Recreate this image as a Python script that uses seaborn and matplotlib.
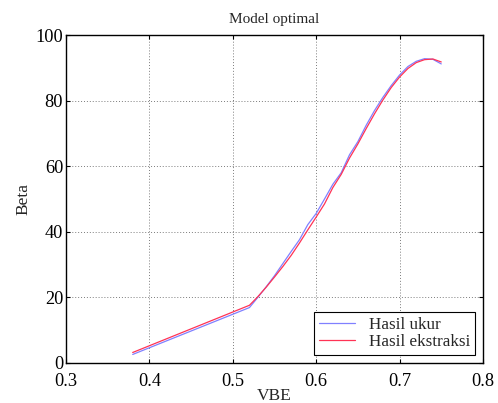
import numpy as np
import pandas as pd
import matplotlib
matplotlib.use("Agg")
import matplotlib.pyplot as plt
import seaborn as sns

vbe = [0.38, 0.52, 0.53, 0.54, 0.55, 0.56, 0.57, 0.58, 0.59, 0.60, 0.61, 0.62, 0.63,
       0.64, 0.65, 0.66, 0.67, 0.68, 0.69, 0.70, 0.71, 0.72, 0.73, 0.74, 0.75]
beta_ukur = [2.6, 16.9, 20.0, 23.2, 26.6, 30.3, 34.0, 37.6, 42.2, 45.6, 50.0, 54.5, 58.0,
             63.5, 67.5, 72.5, 77.0, 81.0, 84.6, 87.8, 90.4, 92.0, 92.8, 92.6, 91.2]
beta_ekstraksi = [3.2, 17.6, 20.2, 23.1, 26.2, 29.4, 32.8, 36.6, 40.6, 44.5, 48.5, 53.5, 57.5,
                  62.5, 66.8, 71.5, 76.0, 80.2, 84.0, 87.2, 89.8, 91.6, 92.5, 92.7, 91.8]
series = ["Hasil ukur", "Hasil ekstraksi"]
xticks = [0.3, 0.4, 0.5, 0.6, 0.7, 0.8]
yticks = [0, 20, 40, 60, 80, 100]

df = pd.DataFrame({
    "VBE": vbe + vbe,
    "Beta": beta_ukur + beta_ekstraksi,
    "series": [series[0]] * len(vbe) + [series[1]] * len(vbe),
})

sns.set_style("white")
plt.rcParams["font.family"] = ["Liberation Serif", "DejaVu Serif"]

fig = plt.figure(figsize=(4.98, 4.03), dpi=100)
ax = fig.add_axes([0.1325, 0.0993, 0.8373, 0.8137])

sns.lineplot(data=df, x="VBE", y="Beta", hue="series", hue_order=series,
             palette={series[0]: "#8080ff", series[1]: "#ff3355"},
             linewidth=0.9, ax=ax, sort=False, estimator=None)

ax.set_xlim(0.3, 0.8)
ax.set_ylim(0, 100)
ax.set_xticks(xticks)
ax.set_yticks(yticks)
ax.set_xticklabels([f"{t:g}" for t in xticks], fontsize=13.2)
ax.set_yticklabels([f"{t:g}" for t in yticks], fontsize=13.2)
ax.grid(True, color="#444444", linestyle=(0, (1, 2)), linewidth=0.7, alpha=0.7)
ax.tick_params(direction="in", length=3, top=True, right=True, bottom=True, left=True,
               width=0.8, colors="black")
ax.tick_params(axis="x", pad=7)
ax.tick_params(axis="y", pad=2)
for s in ax.spines.values():
    s.set_color("black")
    s.set_linewidth(1.0)
ax.set_title("Model optimal", fontsize=11, pad=9)
ax.set_xlabel("VBE", fontsize=12.5, labelpad=-1)
ax.set_ylabel("Beta", fontsize=12.5, labelpad=3)

leg = ax.legend(loc="lower right", bbox_to_anchor=(0.982, 0.024), fontsize=12.3,
                frameon=True, fancybox=False, framealpha=1, edgecolor="black",
                borderpad=0.3, handlelength=2.1, labelspacing=0.05, borderaxespad=0)
leg.get_frame().set_linewidth(0.8)

fig.savefig("out.png", dpi=100)
